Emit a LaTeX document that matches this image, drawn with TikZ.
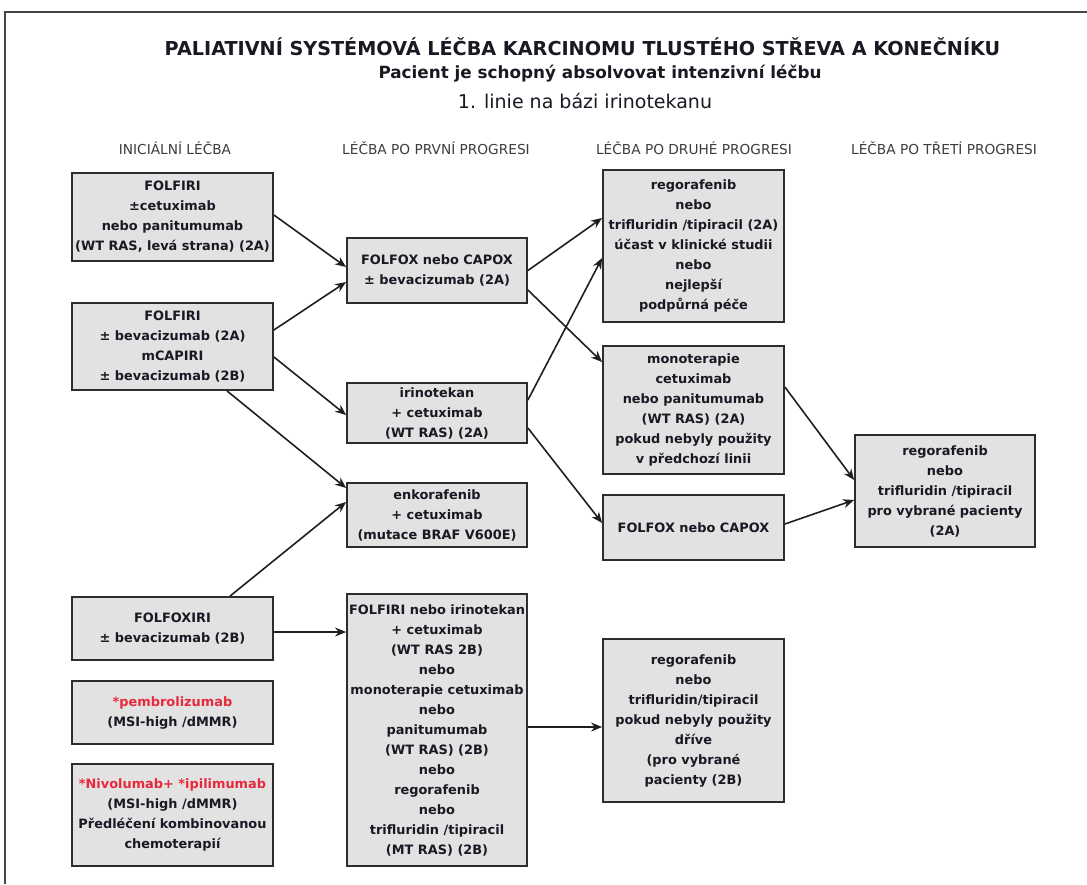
\documentclass[tikz,border=0pt]{standalone}
\usepackage{fontspec}
\setmainfont{DejaVu Sans}
\usetikzlibrary{arrows.meta}
\definecolor{boxfill}{RGB}{226,226,226}
\definecolor{boxline}{RGB}{45,45,45}
\definecolor{txt}{RGB}{25,25,35}
\definecolor{redtxt}{RGB}{232,40,60}
\definecolor{hdr}{RGB}{60,60,60}
\definecolor{framec}{RGB}{70,70,70}
\newcommand{\bxfont}{\fontsize{12.9}{20}\selectfont\bfseries}
\newcommand{\rt}[1]{\textcolor{redtxt}{#1}}
\begin{document}
\begin{tikzpicture}[x=1pt,y=-1pt,
  box/.style={draw=boxline, fill=boxfill, line width=1.8pt, align=center, font=\bxfont, text=txt, inner sep=1pt},
  conn/.style={draw=black!88, line width=1.6pt, -{Stealth[length=11pt,width=9pt]}},
  hdrtext/.style={font=\fontsize{13.7}{16}\selectfont, text=hdr, inner sep=0pt}
  ]
\useasboundingbox (0,0) rectangle (1087,884);
\draw[framec, line width=2pt] (1087,12) -- (5,12) -- (5,884);

% titles
\node[inner sep=0pt, text=txt] (title) at (582.5,47) {\fontsize{19.2}{22}\selectfont\bfseries PALIATIVNÍ SYSTÉMOVÁ LÉČBA KARCINOMU TLUSTÉHO STŘEVA A KONEČNÍKU};
\node[inner sep=0pt, text=txt] (sub) at (600,74) {\fontsize{16.8}{20}\selectfont\bfseries Pacient je schopný absolvovat intenzivní léčbu};
\node[inner sep=0pt, text=txt] (line3) at (585,101) {\fontsize{19}{22}\selectfont 1. linie na bázi irinotekanu};

% headers
\node[hdrtext] (h1) at (175,148) {INICIÁLNÍ LÉČBA};
\node[hdrtext] (h2) at (436,148) {LÉČBA PO PRVNÍ PROGRESI};
\node[hdrtext] (h3) at (694,148) {LÉČBA PO DRUHÉ PROGRESI};
\node[hdrtext] (h4) at (944,148) {LÉČBA PO TŘETÍ PROGRESI};

% column 1
\node[box, minimum width=201pt, minimum height=88pt] (B1) at (172.5,217) {FOLFIRI\\±cetuximab\\nebo panitumumab\\(WT RAS, levá strana) (2A)};
\node[box, minimum width=201pt, minimum height=87pt] (B2) at (172.5,346.5) {FOLFIRI\\± bevacizumab (2A)\\mCAPIRI\\± bevacizumab (2B)};
\node[box, minimum width=201pt, minimum height=63pt] (B3) at (172.5,628.5) {FOLFOXIRI\\± bevacizumab (2B)};
\node[box, minimum width=201pt, minimum height=63pt] (B4) at (172.5,712.5) {\rt{*pembrolizumab}\\(MSI-high /dMMR)};
\node[box, minimum width=201pt, minimum height=102pt] (B5) at (172.5,815) {\rt{*Nivolumab+ *ipilimumab}\\(MSI-high /dMMR)\\Předléčení kombinovanou\\chemoterapií};

% column 2
\node[box, minimum width=180pt, minimum height=65pt] (C1) at (437,270.5) {FOLFOX nebo CAPOX\\± bevacizumab (2A)};
\node[box, minimum width=180pt, minimum height=60pt] (C2) at (437,413) {irinotekan\\+ cetuximab\\(WT RAS) (2A)};
\node[box, minimum width=180pt, minimum height=64pt] (C3) at (437,515) {enkorafenib\\+ cetuximab\\(mutace BRAF V600E)};
\node[box, minimum width=180pt, minimum height=272pt] (C4) at (437,730) {FOLFIRI nebo irinotekan\\+ cetuximab\\(WT RAS 2B)\\nebo\\monoterapie cetuximab\\nebo\\panitumumab\\(WT RAS) (2B)\\nebo\\regorafenib\\nebo\\trifluridin /tipiracil\\(MT RAS) (2B)};

% column 3
\node[box, minimum width=181pt, minimum height=152pt] (D1) at (693.5,246) {regorafenib\\nebo\\trifluridin /tipiracil (2A)\\účast v klinické studii\\nebo\\nejlepší\\podpůrná péče};
\node[box, minimum width=181pt, minimum height=128pt] (D2) at (693.5,410) {monoterapie\\cetuximab\\nebo panitumumab\\(WT RAS) (2A)\\pokud nebyly použity\\v předchozí linii};
\node[box, minimum width=181pt, minimum height=65pt] (D3) at (693.5,527.5) {FOLFOX nebo CAPOX};
\node[box, minimum width=181pt, minimum height=163pt] (D4) at (693.5,720.5) {regorafenib\\nebo\\trifluridin/tipiracil\\pokud nebyly použity\\dříve\\(pro vybrané\\pacienty (2B)};

% column 4
\node[box, minimum width=180pt, minimum height=112pt] (E1) at (945,491) {regorafenib\\nebo\\trifluridin /tipiracil\\pro vybrané pacienty\\(2A)};

% connectors
\draw[conn] ([yshift=2pt]B1.east) -- ([yshift=3.5pt]C1.west);
\draw[conn] ([yshift=16.5pt]B2.east) -- ([yshift=-11.5pt]C1.west);
\draw[conn] ([yshift=-10.5pt]B2.east) -- ([yshift=-2pt]C2.west);
\draw[conn] ([xshift=54.5pt]B2.south) -- ([yshift=27pt]C3.west);
\draw[conn] ([xshift=57.5pt]B3.north) -- ([yshift=13pt]C3.west);
\draw[conn] ([yshift=-3.5pt]B3.east) -- ([yshift=98pt]C4.west);
\draw[conn] (C1.east) -- ([yshift=28pt]D1.west);
\draw[conn] ([yshift=-19.5pt]C1.east) -- ([yshift=48pt]D2.west);
\draw[conn] ([yshift=13pt]C2.east) -- ([yshift=-12pt]D1.west);
\draw[conn] ([yshift=-15pt]C2.east) -- ([yshift=4.5pt]D3.west);
\draw[conn] ([yshift=23pt]D2.east) -- ([yshift=11pt]E1.west);
\draw[conn] ([yshift=3.5pt]D3.east) -- ([yshift=-9pt]E1.west);
\draw[conn] ([yshift=3pt]C4.east) -- ([yshift=-6.5pt]D4.west);
\end{tikzpicture}
\end{document}
